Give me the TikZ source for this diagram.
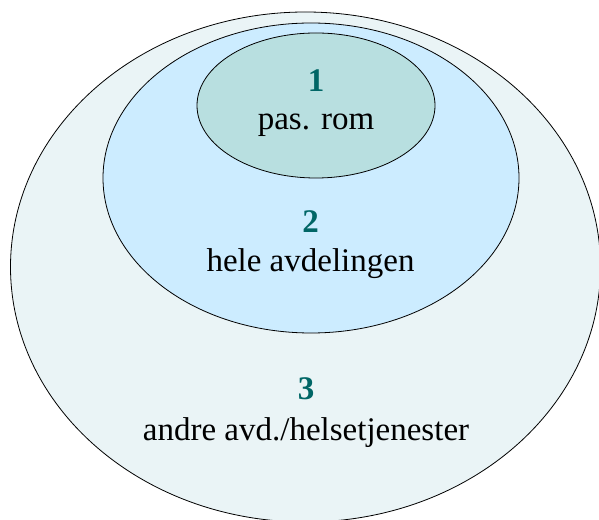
\documentclass[tikz,border=0pt]{standalone}
\usepackage{fontspec}
\setmainfont{Liberation Serif}
\usetikzlibrary{shapes.geometric}
\definecolor{outerfill}{HTML}{EAF4F6}
\definecolor{midfill}{HTML}{CCECFF}
\definecolor{innerfill}{HTML}{B8DFE0}
\definecolor{numteal}{HTML}{006666}
\begin{document}
\begin{tikzpicture}[x=1pt,y=1pt,
  zone/.style={ellipse, draw=black, line width=0.8pt, inner sep=0pt},
  numtxt/.style={anchor=base, inner sep=0pt, text=numteal, font=\fontsize{33}{38}\selectfont\bfseries},
  labtxt/.style={anchor=base, inner sep=0pt, text=black, font=\fontsize{33}{38}\selectfont}]
\useasboundingbox (0,0) rectangle (599,519);
\node[zone, fill=outerfill, minimum width=590pt, minimum height=510pt] (outer) at (305.5,252) {};
\node[zone, fill=midfill, minimum width=416pt, minimum height=310pt] (middle) at (311,341) {};
\node[zone, fill=innerfill, minimum width=238pt, minimum height=145pt] (inner) at (316,413.5) {};
\node[numtxt] (n1) at (316,427) {1};
\node[labtxt] (l1) at (316,389) {pas. rom};
\node[numtxt] (n2) at (310.5,286) {2};
\node[labtxt] (l2) at (310.5,247.5) {hele avdelingen};
\node[numtxt] (n3) at (306,119) {3};
\node[labtxt] (l3) at (306,78.5) {andre avd./helsetjenester};
\end{tikzpicture}
\end{document}
